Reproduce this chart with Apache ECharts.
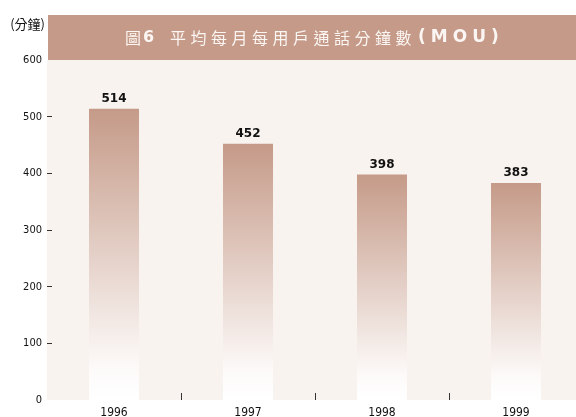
<!DOCTYPE html>
<html>
<head>
<meta charset="utf-8">
<script src="https://cdn.jsdelivr.net/npm/echarts@6/dist/echarts.min.js"></script>
<style>
  html, body { margin: 0; padding: 0; background: #fff; }
  #chart { width: 576px; height: 417px; }
</style>
</head>
<body>
<div id="chart"></div>
<script>
// 數據
var years = ["1996", "1997", "1998", "1999"];
var mou = [514, 452, 398, 383];
var yTicks = [0, 100, 200, 300, 400, 500, 600];

var brown = "#c59a88";
var narrow = "'DejaVu Sans', sans-serif";

// 標題逐字排版
var titleChars = "平均每月每用戶通話分鐘數".split("");
var titleText = "{f|圖}{n|6}" + titleChars.map(function (c) { return "{c|" + c + "}"; }).join("") +
  "{s| }" + "(MOU)".split("").map(function (c) { return "{e|" + c + "}"; }).join("");

var myChart = echarts.init(document.getElementById("chart"));
myChart.setOption({
  backgroundColor: "#ffffff",
  animation: false,
  title: {
    text: titleText,
    left: 125,
    top: 29,
    padding: 0,
    z: 20,
    textStyle: {
      rich: {
        f: { color: "#fbf6f3", fontSize: 16, width: 18, fontWeight: "normal", fontFamily: "'Noto Sans CJK TC', sans-serif" },
        n: { color: "#fbf6f3", fontSize: 16, width: 27, fontWeight: "bold", fontFamily: "'DejaVu Sans', sans-serif" },
        c: { color: "#fbf6f3", fontSize: 16, width: 20.5, fontWeight: "normal", fontFamily: "'Noto Sans CJK TC', sans-serif" },
        s: { width: 2, fontSize: 15 },
        e: { color: "#fbf6f3", fontSize: 17, fontWeight: "bold", padding: [0, 5, 0, 0], fontFamily: "'DejaVu Sans', sans-serif" }
      }
    }
  },
  graphic: [
    {
      type: "rect",
      shape: { x: 48, y: 15, width: 528, height: 45 },
      style: { fill: brown },
      z: 1
    }
  ],
  grid: {
    left: 47,
    width: 536,
    top: 60,
    bottom: 17,
    outerBoundsMode: "none",
    show: true,
    backgroundColor: "#f9f3f0",
    borderWidth: 0
  },
  xAxis: {
    type: "category",
    data: years,
    axisLine: { show: false },
    axisTick: {
      show: true,
      inside: true,
      length: 7,
      interval: function (i) { return i > 0; },
      lineStyle: { color: "#333" }
    },
    axisLabel: { color: "#111", fontSize: 12, fontWeight: "condensed", fontFamily: narrow, margin: 7 }
  },
  yAxis: {
    type: "value",
    min: 0,
    max: 600,
    interval: 100,
    name: "(分鐘)",
    nameLocation: "end",
    nameGap: 29,
    nameTextStyle: { color: "#111", fontSize: 13, align: "right", padding: [0, 2, 0, 0], fontFamily: "'Noto Sans CJK TC', sans-serif" },
    axisLine: { show: false },
    axisTick: {
      show: true,
      inside: true,
      length: 5,
      customValues: [100, 200, 300, 400, 500],
      lineStyle: { color: "#333" }
    },
    splitLine: { show: false },
    axisLabel: {
      color: "#111",
      fontSize: 11,
      fontWeight: "condensed",
      fontFamily: narrow,
      margin: 5,
      formatter: function (v) { return yTicks.indexOf(v) >= 0 ? String(v) : ""; }
    }
  },
  series: [
    {
      type: "bar",
      data: mou,
      barWidth: 50,
      itemStyle: {
        color: new echarts.graphic.LinearGradient(0, 0, 0, 1, [
          { offset: 0, color: brown },
          { offset: 0.9, color: "#fdfbfa" },
          { offset: 1, color: "#ffffff" }
        ])
      },
      label: {
        show: true,
        position: "top",
        distance: 4,
        color: "#111",
        fontSize: 12,
        fontWeight: "bold",
        fontFamily: "'DejaVu Sans', sans-serif"
      }
    }
  ]
});
</script>
</body>
</html>
